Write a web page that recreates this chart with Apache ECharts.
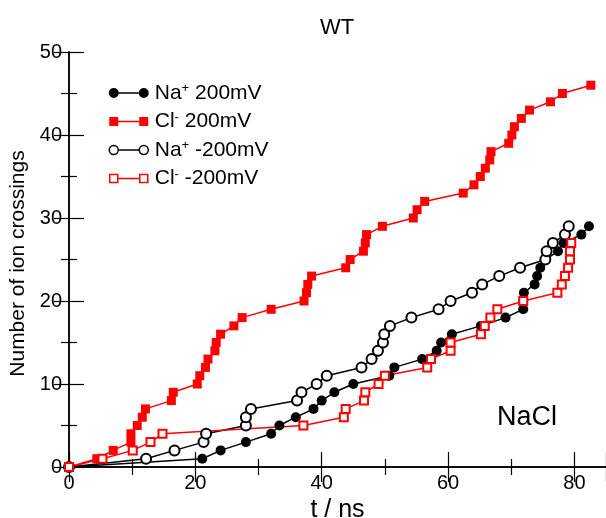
<!DOCTYPE html>
<html>
<head>
<meta charset="utf-8">
<script src="https://cdn.jsdelivr.net/npm/echarts@6/dist/echarts.min.js"></script>
<style>html,body{margin:0;padding:0;background:#fff}#c{width:606px;height:518px}</style>
</head>
<body>
<div id="c"></div>
<script>
// Series: time (ns) of each cumulative crossing and the cumulative count
const naPosT = [0, 21.1, 24.0, 28.0, 32.0, 33.3, 35.9, 38.7, 40.0, 42.0, 45.0, 50.7, 51.5, 55.9, 58.2, 58.9, 60.6, 65.2, 69.1, 71.9, 71.9, 72.0, 73.7, 74.1, 74.6, 75.5, 77.4, 78.3, 81.1, 82.3];
const naPosN = [0, 1, 2, 3, 4, 5, 6, 7, 8, 9, 10, 11, 12, 13, 14, 15, 16, 17, 18, 19, 20, 21, 22, 23, 24, 25, 26, 27, 28, 29];

const clPosT = [0, 4.4, 7.0, 9.8, 9.8, 10.8, 11.6, 12.1, 16.2, 16.5, 20.3, 20.7, 21.6, 22.0, 23.1, 23.3, 24.0, 26.1, 27.4, 32.0, 37.2, 37.6, 37.8, 38.4, 43.8, 44.5, 46.6, 46.9, 47.1, 49.6, 54.5, 55.1, 56.3, 62.4, 64.1, 65.1, 65.9, 66.6, 66.8, 69.6, 70.1, 70.5, 71.6, 72.9, 76.2, 78.1, 82.6];
const clPosN = [0, 1, 2, 3, 4, 5, 6, 7, 8, 9, 10, 11, 12, 13, 14, 15, 16, 17, 18, 19, 20, 21, 22, 23, 24, 25, 26, 27, 28, 29, 30, 31, 32, 33, 34, 35, 36, 37, 38, 39, 40, 41, 42, 43, 44, 45, 46];

const naNegT = [0, 12.2, 16.7, 21.3, 21.7, 28.0, 28.0, 28.8, 36.1, 36.8, 39.2, 40.8, 46.3, 47.9, 48.9, 49.7, 49.9, 50.8, 54.2, 58.5, 60.4, 63.8, 65.4, 68.1, 71.4, 75.4, 75.6, 76.6, 78.5, 79.1];
const naNegN = [0, 1, 2, 3, 4, 5, 6, 7, 8, 9, 10, 11, 12, 13, 14, 15, 16, 17, 18, 19, 20, 21, 22, 23, 24, 25, 26, 27, 28, 29];

const clNegT = [0, 5.3, 10.1, 12.9, 14.8, 37.1, 43.5, 43.8, 46.7, 46.9, 49.0, 50.0, 56.7, 57.3, 60.4, 60.4, 65.2, 65.8, 66.7, 67.8, 71.9, 77.3, 78.0, 78.5, 79.0, 79.3, 79.3, 79.5];
const clNegN = [0, 1, 2, 3, 4, 5, 6, 7, 8, 9, 10, 11, 12, 13, 14, 15, 16, 17, 18, 19, 20, 21, 22, 23, 24, 25, 26, 27];

const seriesNames = ['Na+ 200mV', 'Cl- 200mV', 'Na+ -200mV', 'Cl- -200mV'];
const legendIon = ['Na', 'Cl', 'Na', 'Cl'];
const legendCharge = ['+', '-', '+', '-'];
const legendVolt = [' 200mV', ' 200mV', ' -200mV', ' -200mV'];

const xTicks = [0, 20, 40, 60, 80];
const yTicks = [0, 10, 20, 30, 40, 50];

const FONT = '"Liberation Sans", Arial, Helvetica, sans-serif';
function pairs(t, n) { return t.map((v, i) => [v, n[i]]); }

// legend icons: marker - line - marker (xmgrace style)
const ICON_FCIRC = 'path://M0,5 A5,5 0 1,1 10,5 A5,5 0 1,1 0,5 Z M10,4.25 L30,4.25 L30,5.75 L10,5.75 Z M30,5 A5,5 0 1,1 40,5 A5,5 0 1,1 30,5 Z';
const ICON_FRECT = 'path://M0.5,0.5 L9.5,0.5 L9.5,9.5 L0.5,9.5 Z M9.5,4.25 L30.5,4.25 L30.5,5.75 L9.5,5.75 Z M30.5,0.5 L39.5,0.5 L39.5,9.5 L30.5,9.5 Z M0,5 L0,5 M40,5 L40,5 M20,0 L20,0 M20,10 L20,10';
const ICON_OCIRC = 'path://M0.5,5 A4.5,4.5 0 1,1 9.5,5 A4.5,4.5 0 1,1 0.5,5 Z M9.5,5 L30.5,5 M30.5,5 A4.5,4.5 0 1,1 39.5,5 A4.5,4.5 0 1,1 30.5,5 Z M0,5 L0,5 M40,5 L40,5 M20,0 L20,0 M20,10 L20,10';
const ICON_ORECT = 'path://M1,1 L9,1 L9,9 L1,9 Z M9,5 L31,5 M31,1 L39,1 L39,9 L31,9 Z M0,5 L0,5 M40,5 L40,5 M20,0 L20,0 M20,10 L20,10';

const chart = echarts.init(document.getElementById('c'), null, {renderer: 'canvas'});
const tickStyle = {color: '#000', width: 1.2};
chart.setOption({
  animation: false,
  backgroundColor: '#fff',
  title: {
    text: 'WT', left: 315, top: 12,
    textStyle: {fontFamily: FONT, fontSize: 22, fontWeight: 'normal', color: '#000'}
  },
  grid: {left: 69, right: 0, top: 52, bottom: 51, containLabel: false, outerBoundsMode: 'none'},
  legend: {
    orient: 'vertical', left: 103, top: 77,
    itemWidth: 40, itemHeight: 10, itemGap: 7,
    data: [
      {name: seriesNames[0], icon: ICON_FCIRC, itemStyle: {color: '#000', borderWidth: 0}},
      {name: seriesNames[1], icon: ICON_FRECT, itemStyle: {color: '#ff0000', borderWidth: 0}},
      {name: seriesNames[2], icon: ICON_OCIRC, itemStyle: {color: '#fff', borderColor: '#000', borderWidth: 1.5}},
      {name: seriesNames[3], icon: ICON_ORECT, itemStyle: {color: '#fff', borderColor: '#ff0000', borderWidth: 1.5}}
    ],
    textStyle: {
      fontFamily: FONT, fontSize: 21, color: '#000',
      rich: {
        p: {width: 1, lineHeight: 22},
        t: {fontFamily: FONT, fontSize: 21, color: '#000', lineHeight: 22},
        s: {fontFamily: FONT, fontSize: 13, color: '#000', lineHeight: 12, verticalAlign: 'top'}
      }
    },
    formatter: function (name) {
      const i = seriesNames.indexOf(name);
      return '{p|}{t|' + legendIon[i] + '}{s|' + legendCharge[i] + '}{t|' + legendVolt[i] + '}';
    }
  },
  graphic: [{
    type: 'text', left: 497, top: 404,
    style: {text: 'NaCl', fontFamily: FONT, fontSize: 27, fill: '#000'}
  }],
  xAxis: [{
    type: 'value', min: 0, max: 85, interval: 20,
    name: 't / ns', nameLocation: 'middle', nameGap: 28,
    nameTextStyle: {fontFamily: FONT, fontSize: 25, color: '#000'},
    axisLine: {lineStyle: {color: '#000', width: 1.5}}, splitLine: {show: false},
    axisTick: {inside: true, length: 15, lineStyle: tickStyle},
    minorTick: {show: true, splitNumber: 2, length: 8, lineStyle: tickStyle},
    axisLabel: {fontFamily: FONT, fontSize: 20, color: '#000', margin: 6, showMaxLabel: false,
      formatter: v => xTicks.includes(v) ? String(v) : ''}
  }, {
    type: 'value', position: 'top', min: 0, max: 85, interval: 20,
    axisLine: {lineStyle: {color: '#000', width: 1.5}}, splitLine: {show: false},
    axisTick: {inside: true, length: 15, lineStyle: tickStyle},
    minorTick: {show: true, splitNumber: 2, length: 8, lineStyle: tickStyle},
    axisLabel: {show: false}
  }],
  yAxis: [{
    type: 'value', min: 0, max: 50, interval: 10,
    name: 'Number of ion crossings', nameLocation: 'middle', nameGap: 37,
    nameTextStyle: {fontFamily: FONT, fontSize: 21, color: '#000', padding: [0, 8, 0, 0]},
    axisLine: {lineStyle: {color: '#000', width: 1.5}}, splitLine: {show: false},
    axisTick: {inside: true, length: 15, lineStyle: tickStyle},
    minorTick: {show: true, splitNumber: 2, length: 8, lineStyle: tickStyle},
    axisLabel: {fontFamily: FONT, fontSize: 20, color: '#000', margin: 7,
      formatter: v => yTicks.includes(v) ? String(v) : ''}
  }, {
    type: 'value', position: 'right', min: 0, max: 50, interval: 10,
    axisLine: {lineStyle: {color: '#000', width: 1.5}}, splitLine: {show: false},
    axisTick: {inside: true, length: 15, lineStyle: tickStyle},
    minorTick: {show: true, splitNumber: 2, length: 8, lineStyle: tickStyle},
    axisLabel: {show: false}
  }],
  series: [{
    name: seriesNames[0], type: 'line', data: pairs(naPosT, naPosN),
    symbol: 'circle', symbolSize: 10, color: '#000',
    lineStyle: {color: '#000', width: 1.5}, itemStyle: {color: '#000'}, z: 3
  }, {
    name: seriesNames[1], type: 'line', data: pairs(clPosT, clPosN),
    symbol: 'rect', symbolSize: 9, color: '#ff0000',
    lineStyle: {color: '#ff0000', width: 1.5}, itemStyle: {color: '#ff0000'}, z: 3
  }, {
    name: seriesNames[2], type: 'line', data: pairs(naNegT, naNegN),
    symbol: 'emptyCircle', symbolSize: 10, color: '#000',
    lineStyle: {color: '#000', width: 1.5}, itemStyle: {color: '#000', borderWidth: 1.5}, z: 3
  }, {
    name: seriesNames[3], type: 'line', data: pairs(clNegT, clNegN),
    symbol: 'emptyRect', symbolSize: 8, color: '#ff0000',
    lineStyle: {color: '#ff0000', width: 1.5}, itemStyle: {color: '#ff0000', borderWidth: 1.5}, z: 3
  }]
});
</script>
</body>
</html>
